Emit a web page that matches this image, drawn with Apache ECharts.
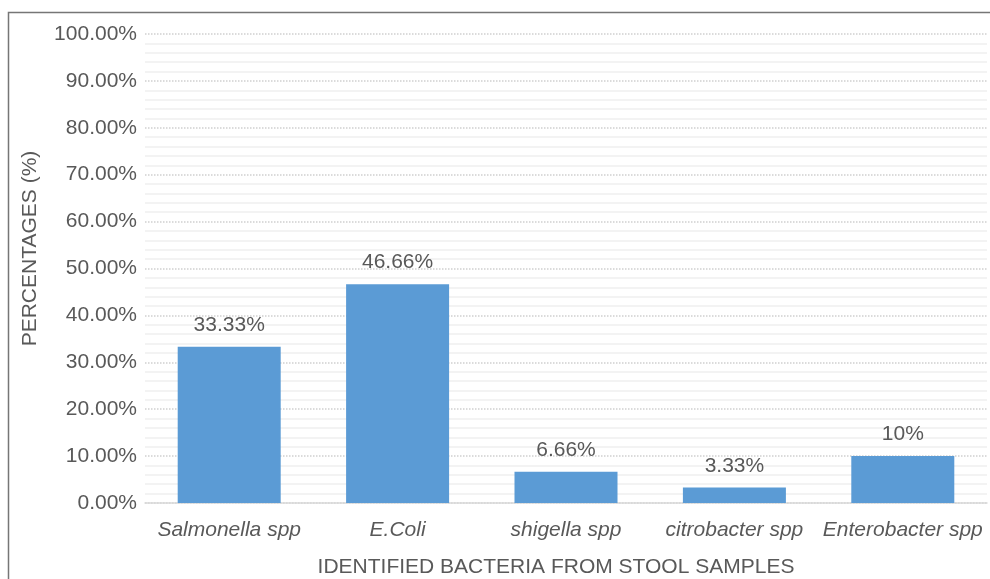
<!DOCTYPE html>
<html><head><meta charset="utf-8">
<script src="https://cdn.jsdelivr.net/npm/echarts@6/dist/echarts.min.js"></script>
<style>html,body{margin:0;padding:0;background:#fff}#c{width:990px;height:579px}</style>
</head><body><div id="c"></div>
<script>
var categories = ['Salmonella spp', 'E.Coli', 'shigella spp', 'citrobacter spp', 'Enterobacter spp'];
var values = [33.33, 46.66, 6.66, 3.33, 10];
var valueLabels = ['33.33%', '46.66%', '6.66%', '3.33%', '10%'];
var chart = echarts.init(document.getElementById('c'));
var font = '"Liberation Sans", Arial, sans-serif';
chart.setOption({
  animation: false,
  textStyle: {fontFamily: font},
  graphic: [{type: 'rect', shape: {x: 8.5, y: 12.5, width: 1000, height: 600},
    style: {fill: 'none', stroke: '#767676', lineWidth: 1.5}, z: 100}],
  grid: {left: 145, right: 3, top: 34, bottom: 76, containLabel: false, outerBoundsMode: 'none'},
  xAxis: {
    type: 'category', data: categories,
    name: 'IDENTIFIED BACTERIA FROM STOOL SAMPLES', nameLocation: 'middle', nameGap: 54,
    nameTextStyle: {fontSize: 21, color: '#595959', fontFamily: font, padding: [0, 20, 0, 0]},
    axisLine: {lineStyle: {color: '#d9d9d9', width: 1.5}},
    axisTick: {show: false},
    axisLabel: {interval: 0, fontSize: 21, color: '#595959', fontStyle: 'italic', margin: 17, fontFamily: font}
  },
  yAxis: {
    type: 'value', min: 0, max: 100, interval: 10,
    name: 'PERCENTAGES (%)', nameLocation: 'middle', nameGap: 104, nameRotate: 90,
    nameTextStyle: {fontSize: 21, color: '#595959', fontFamily: font, padding: [0, 0, 0, 40]},
    axisLine: {show: false}, axisTick: {show: false},
    axisLabel: {fontSize: 21, color: '#595959', margin: 8, fontFamily: font,
      formatter: function (v) { return v.toFixed(2) + '%'; }},
    splitLine: {lineStyle: {color: '#d0d0d0', type: 'dotted', width: 1.5}},
    minorTick: {show: false, splitNumber: 5},
    minorSplitLine: {show: true, lineStyle: {color: '#efefef', width: 1.5}}
  },
  series: [{
    type: 'bar', data: values, barWidth: 103,
    itemStyle: {color: '#5b9bd5'},
    label: {show: true, position: 'top', distance: 11, fontSize: 21, color: '#595959', fontFamily: font,
      formatter: function (p) { return valueLabels[p.dataIndex]; }}
  }]
});
</script></body></html>
